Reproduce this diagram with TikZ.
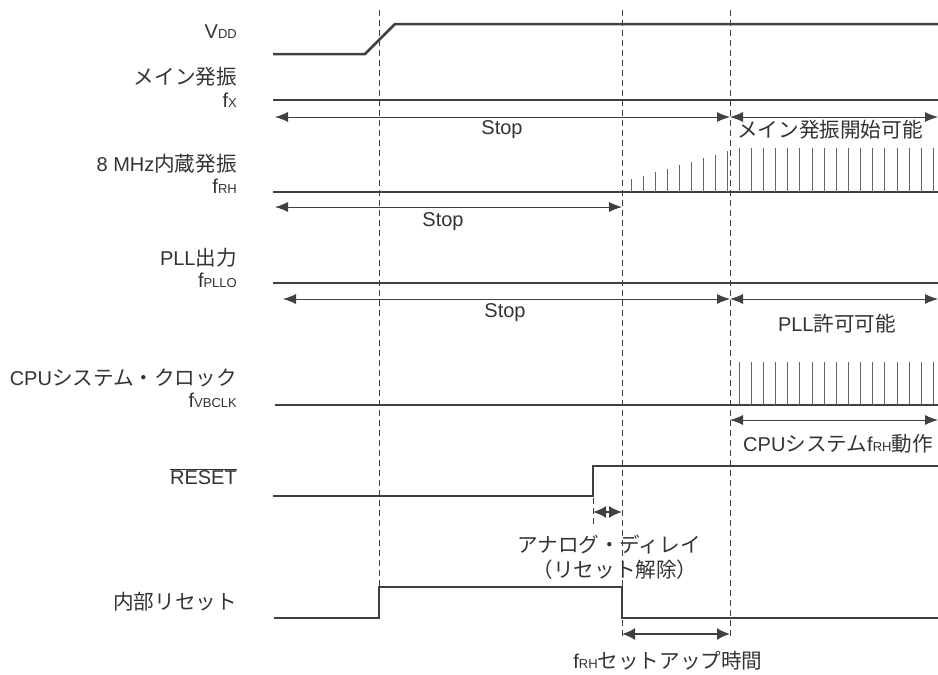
\documentclass[tikz,border=0pt]{standalone}
\usepackage{fontspec}
\setmainfont{Liberation Sans}
\newfontfamily\jpfont{Noto Sans CJK JP}[Scale=1.03]
\usetikzlibrary{arrows.meta}

\definecolor{ink}{HTML}{404040}
\definecolor{txt}{HTML}{333333}
\newcommand{\jp}[1]{{\jpfont #1}}
\newcommand{\sub}[1]{{\fontsize{13}{13}\selectfont #1}}

\begin{document}
\begin{tikzpicture}[
  x=1pt, y=-1pt,
  >={Latex[length=13pt,width=10pt]},
  sig/.style={draw=ink, line width=2.5pt},
  span/.style={<->, draw=ink, line width=0.9pt},
  bold span/.style={{Latex[length=13pt,width=12pt]}-{Latex[length=13pt,width=12pt]}, draw=ink, line width=2pt},
  guide/.style={draw=ink, line width=0.8pt, dash pattern=on 6pt off 4pt},
  tick/.style={draw=ink!80, line width=0.8pt},
  lbl/.style={anchor=east, inner sep=0pt, text=txt, font=\fontsize{20}{24}\selectfont},
  note/.style={inner sep=0pt, text=txt, font=\fontsize{20}{24}\selectfont}
]
  \useasboundingbox (0,0) rectangle (938,675);

  % time marks
  \coordinate (t0) at (275,0);
  \coordinate (t1) at (379,0);
  \coordinate (td) at (593,0);
  \coordinate (t2) at (622,0);
  \coordinate (t3) at (730,0);
  \coordinate (te) at (938,0);

  % span levels
  \coordinate (ya) at (0,117);
  \coordinate (yb) at (0,207);
  \coordinate (yc) at (0,299);
  \coordinate (yd) at (0,420);
  \coordinate (ye) at (0,512);
  \coordinate (yf) at (0,634);

  % guides
  \draw[guide] (t1 |- 0,10) -- (t1 |- 0,587);
  \draw[guide] (t2 |- 0,10) -- (t2 |- 0,636);
  \draw[guide] (t3 |- 0,10) -- (t3 |- 0,636);
  \draw[guide] (td |- 0,498) -- (td |- 0,526);

  % signal names
  \node[lbl] (vdd)   at (237,32)  {V\sub{DD}};
  \node[lbl] (mosc)  at (237,77)  {\jp{メイン発振}};
  \node[lbl] (fx)    at (237,100) {f\sub{X}};
  \node[lbl] (irh)   at (237,164) {8 MHz\jp{内蔵発振}};
  \node[lbl] (frh)   at (237,186) {f\sub{RH}};
  \node[lbl] (pll)   at (237,258) {PLL\jp{出力}};
  \node[lbl] (fpllo) at (237,280) {f\sub{PLLO}};
  \node[lbl] (cpu)   at (237,378) {CPU\jp{システム・クロック}};
  \node[lbl] (fvb)   at (237,400) {f\sub{VBCLK}};
  \node[lbl] (rst)   at (237,477) {$\overline{\mbox{RESET}}$};
  \node[lbl] (irst)  at (237,602) {\jp{内部リセット}};

  % waveforms
  \draw[sig] (273,54) -- (365,54) -- (395,24) -- (938,24);
  \draw[sig] (273,100) -- (938,100);
  \draw[sig] (273,192) -- (938,192);
  \draw[sig] (273,283) -- (938,283);
  \draw[sig] (275,405) -- (938,405);
  \draw[sig] (273,496) -- (593,496) -- (593,466) -- (938,466);
  \draw[sig] (274,618) -- (379,618) -- (379,587) -- (622,587) -- (622,618) -- (938,618);

  % oscillator start-up and clocks
  \foreach \i in {0,...,8}
    \draw[tick] ({631+12.1*\i},192) -- ++(0,{-13-3.5*\i});
  \foreach \i in {0,...,16} {
    \draw[tick] ({739+12.15*\i},192) -- ++(0,-44);
    \draw[tick] ({739+12.15*\i},405) -- ++(0,-43);
  }

  % spans
  \draw[span] (t0 |- ya) -- (t3 |- ya);
  \draw[span] (t3 |- ya) -- (te |- ya);
  \draw[span] (t0 |- yb) -- (t2 |- yb);
  \draw[span] ([xshift=8pt]t0 |- yc) -- (t3 |- yc);
  \draw[span] (t3 |- yc) -- (te |- yc);
  \draw[span] (t3 |- yd) -- (te |- yd);
  \draw[bold span] (td |- ye) -- (t2 |- ye);
  \draw[bold span] (t2 |- yf) -- (t3 |- yf);

  \node[note] (stopa) at (502,130) {Stop};
  \node[note] (mok)   at (830,130) {\jp{メイン発振開始可能}};
  \node[note] (stopb) at (443,222) {Stop};
  \node[note] (stopc) at (505,313) {Stop};
  \node[note] (pllok) at (837,324) {PLL\jp{許可可能}};
  \node[note] (cpuop) at (838,444) {CPU\jp{システム}f\sub{RH}\jp{動作}};
  \node[note] (adly)  at (609,545) {\jp{アナログ・ディレイ}};
  \node[note] (rrel)  at (615,570) {\jp{（リセット解除）}};
  \node[note] (setup) at (668,661) {f\sub{RH}\jp{セットアップ時間}};
\end{tikzpicture}
\end{document}
